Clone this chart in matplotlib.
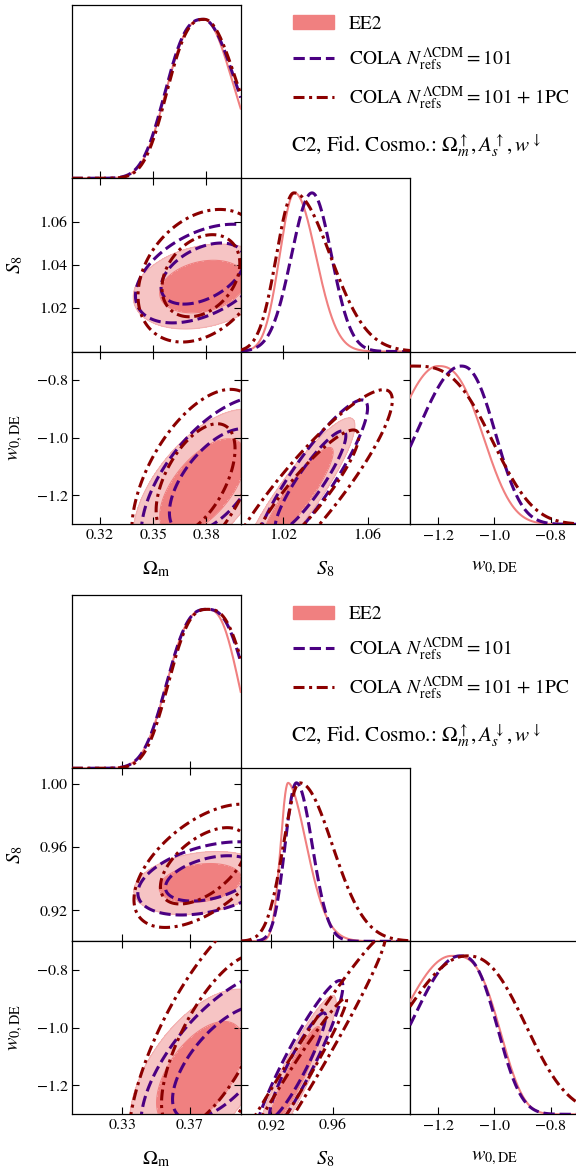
import numpy as np
import matplotlib
matplotlib.use('Agg')
import matplotlib.pyplot as plt
from matplotlib.lines import Line2D
from matplotlib.patches import Patch

plt.rcParams['font.family'] = 'serif'
plt.rcParams['font.serif'] = ['STIXGeneral', 'Liberation Serif', 'DejaVu Serif']
plt.rcParams['mathtext.fontset'] = 'stix'

# labels / series
param_labels = [r'$\Omega_{\rm m}$', r'$S_8$', r'$w_{0,\rm DE}$']
series_names = ['EE2', r'COLA $N_{\rm refs}^{\Lambda\rm CDM} = 101$',
                r'COLA $N_{\rm refs}^{\Lambda\rm CDM} = 101$ + 1PC']
line_colors = ['lightcoral', '#4B0082', '#8B0000']
fill_inner = '#F08080'
fill_outer = '#F6C4C4'

# ---------------- top triangle: Om up, As up, w down ----------------
top_text = r'C2, Fid. Cosmo.: $\Omega_m^{\uparrow}, A_s^{\uparrow}, w^{\downarrow}$'
top_ranges = [(0.304, 0.3995), (1.0, 1.08), (-1.3, -0.7)]
top_xticks = [[0.32, 0.35, 0.38], [1.02, 1.06], [-1.2, -1.0, -0.8]]
top_yticks = [None, [1.02, 1.04, 1.06], [-1.2, -1.0, -0.8]]
# 1D marginals: peak, width below, width above, shape below, shape above
top_1d_om = [[0.3787, 0.0200, 0.0162, 2.7, 2.0],
             [0.3783, 0.0200, 0.0182, 2.7, 2.0],
             [0.3790, 0.0197, 0.0182, 2.7, 2.0]]
top_1d_s8 = [[1.0255, 0.0071, 0.0100, 2.0, 2.0],
             [1.0337, 0.0097, 0.0092, 2.0, 2.0],
             [1.0251, 0.0082, 0.0172, 2.0, 2.0]]
top_1d_w = [[-1.200, 0.150, 0.151, 2.0, 2.6],
            [-1.118, 0.152, 0.117, 2.0, 2.35],
            [-1.290, 0.300, 0.261, 2.0, 3.0]]
# 2D marginals: centre x, centre y, sigma x, sigma y, correlation
top_2d_om_s8 = [[0.378, 1.030, 0.016, 0.0080, 0.25],
                [0.378, 1.036, 0.0155, 0.0093, 0.45],
                [0.377, 1.035, 0.0145, 0.0125, 0.30]]
top_2d_om_w = [[0.378, -1.17, 0.0160, 0.110, 0.60],
               [0.385, -1.15, 0.0170, 0.120, 0.60],
               [0.374, -1.145, 0.0147, 0.128, 0.55]]
top_2d_s8_w = [[1.027, -1.20, 0.011, 0.110, 0.90],
               [1.033, -1.15, 0.011, 0.115, 0.90],
               [1.030, -1.20, 0.017, 0.150, 0.90]]

# ---------------- bottom triangle: Om up, As down, w down ----------------
bot_text = r'C2, Fid. Cosmo.: $\Omega_m^{\uparrow}, A_s^{\downarrow}, w^{\downarrow}$'
bot_ranges = [(0.30, 0.40), (0.90, 1.01), (-1.3, -0.7)]
bot_xticks = [[0.33, 0.37], [0.92, 0.96], [-1.2, -1.0, -0.8]]
bot_yticks = [None, [0.92, 0.96, 1.00], [-1.2, -1.0, -0.8]]
bot_1d_om = [[0.3799, 0.0219, 0.0175, 2.75, 2.75],
             [0.3799, 0.0219, 0.0218, 2.75, 2.75],
             [0.3805, 0.0215, 0.0218, 2.75, 2.75]]
bot_1d_s8 = [[0.9308, 0.0049, 0.0120, 2.0, 1.8],
             [0.9362, 0.0074, 0.0103, 2.0, 2.0],
             [0.9384, 0.0107, 0.0212, 2.0, 2.0]]
bot_1d_w = [[-1.152, 0.180, 0.160, 2.0, 3.2],
            [-1.122, 0.166, 0.124, 2.0, 2.6],
            [-1.098, 0.230, 0.198, 2.0, 2.4]]
bot_2d_om_s8 = [[0.376, 0.937, 0.016, 0.0082, 0.25],
                [0.382, 0.940, 0.0175, 0.0095, 0.40],
                [0.378, 0.948, 0.0168, 0.0160, 0.55]]
bot_2d_om_w = [[0.376, -1.16, 0.017, 0.120, 0.55],
               [0.390, -1.12, 0.020, 0.130, 0.65],
               [0.385, -1.05, 0.021, 0.200, 0.70]]
bot_2d_s8_w = [[0.935, -1.17, 0.011, 0.115, 0.92],
               [0.937, -1.13, 0.012, 0.120, 0.93],
               [0.928, -1.25, 0.0269, 0.233, 0.982]]

levels = [2.30, 6.0]  # 68% / 95% for a 2D gaussian

W, H = 576.0, 1172.0
col_x = [71.7, 240.7, 410.0, 578.6]
top_rows = [4.7, 178.3, 351.5, 524.3]
bot_rows = [594.7, 768.3, 941.3, 1114.3]


def profile(x, p):
    mu, slo, shi, plo, phi = p
    s = np.where(x < mu, slo, shi)
    pw = np.where(x < mu, plo, phi)
    return np.exp(-0.5 * np.abs((x - mu) / s) ** pw)


def chi2(X, Y, p):
    cx, cy, sx, sy, r = p
    u = (X - cx) / sx
    v = (Y - cy) / sy
    return (u * u - 2 * r * u * v + v * v) / (1 - r * r)


styles = [dict(ls='-', lw=1.5), dict(ls=(0, (3.7, 1.6)), lw=2.2),
          dict(ls=(0, (3.6, 1.5, 1.0, 1.5)), lw=2.2)]


def triangle(rows, ranges, xticks, yticks, d1, d2):
    axes = {}
    for i in range(3):
        for j in range(i + 1):
            l = col_x[j] / W
            w = (col_x[j + 1] - col_x[j]) / W
            b = 1 - rows[i + 1] / H
            h = (rows[i + 1] - rows[i]) / H
            ax = plt.axes([l, b, w, h])
            axes[i, j] = ax
            ax.set_xlim(ranges[j])
            ax.set_xticks(xticks[j])
            if i == j:
                x = np.linspace(ranges[j][0], ranges[j][1], 400)
                for k in range(3):
                    y = profile(x, d1[j][k])
                    y = y / y.max()
                    ax.plot(x, y, color=line_colors[k], zorder=3 + k, **styles[k])
                ax.set_ylim(0, 1.092)
                ax.set_yticks([])
                ax.tick_params(direction='in', length=5, top=False, labelsize=11.5)
            else:
                ax.set_ylim(ranges[i])
                ax.set_yticks(yticks[i])
                xr, yr = ranges[j], ranges[i]
                gx = np.linspace(xr[0] - 0.05 * (xr[1] - xr[0]), xr[1] + 0.05 * (xr[1] - xr[0]), 400)
                gy = np.linspace(yr[0] - 0.05 * (yr[1] - yr[0]), yr[1] + 0.05 * (yr[1] - yr[0]), 400)
                X, Y = np.meshgrid(gx, gy)
                pars = d2[(i, j)]
                c = chi2(X, Y, pars[0])
                ax.contourf(X, Y, c, levels=[0, levels[0], levels[1]],
                            colors=[fill_inner, fill_outer], zorder=1)
                ax.contour(X, Y, c, levels=levels, colors=[fill_inner, '#F3B0B0'],
                           linewidths=0.8, zorder=2)
                for k in (1, 2):
                    c = chi2(X, Y, pars[k])
                    ax.contour(X, Y, c, levels=levels, colors=line_colors[k],
                               linewidths=styles[k]['lw'],
                               linestyles=[styles[k]['ls']], zorder=3 + k)
                ax.tick_params(direction='in', length=5, top=True, right=True,
                               labelsize=11.5, pad=3)
            if i < 2:
                ax.set_xticklabels([])
            else:
                ax.set_xlabel(param_labels[j], fontsize=14.5)
                ax.xaxis.set_label_coords(0.5, -0.2)
            if j > 0:
                ax.set_yticklabels([])
            elif i > 0:
                ax.set_ylabel(param_labels[i], fontsize=14.5)
                ax.yaxis.set_label_coords(-0.276, 0.5)
            for s in ax.spines.values():
                s.set_linewidth(0.9)
    return axes


fig = plt.figure(figsize=(W / 100, H / 100), dpi=100)

triangle(top_rows, top_ranges, top_xticks, top_yticks,
         [top_1d_om, top_1d_s8, top_1d_w],
         {(1, 0): top_2d_om_s8, (2, 0): top_2d_om_w, (2, 1): top_2d_s8_w})
triangle(bot_rows, bot_ranges, bot_xticks, bot_yticks,
         [bot_1d_om, bot_1d_s8, bot_1d_w],
         {(1, 0): bot_2d_om_s8, (2, 0): bot_2d_om_w, (2, 1): bot_2d_s8_w})

handles = [Patch(color=fill_inner),
           Line2D([], [], color=line_colors[1], **styles[1]),
           Line2D([], [], color=line_colors[2], **styles[2])]
for y0, txt in ((0.0, top_text), (590.0, bot_text)):
    fig.legend(handles, series_names, loc='upper left', frameon=False,
               bbox_to_anchor=(275 / W, 1 - (y0 - 2) / H), fontsize=14,
               handlelength=2.15, handletextpad=0.75, labelspacing=0.62)
    fig.text(291 / W, 1 - (y0 + 146) / H, txt, fontsize=15.2, va='center', ha='left')

fig.savefig('out.png', dpi=100)
